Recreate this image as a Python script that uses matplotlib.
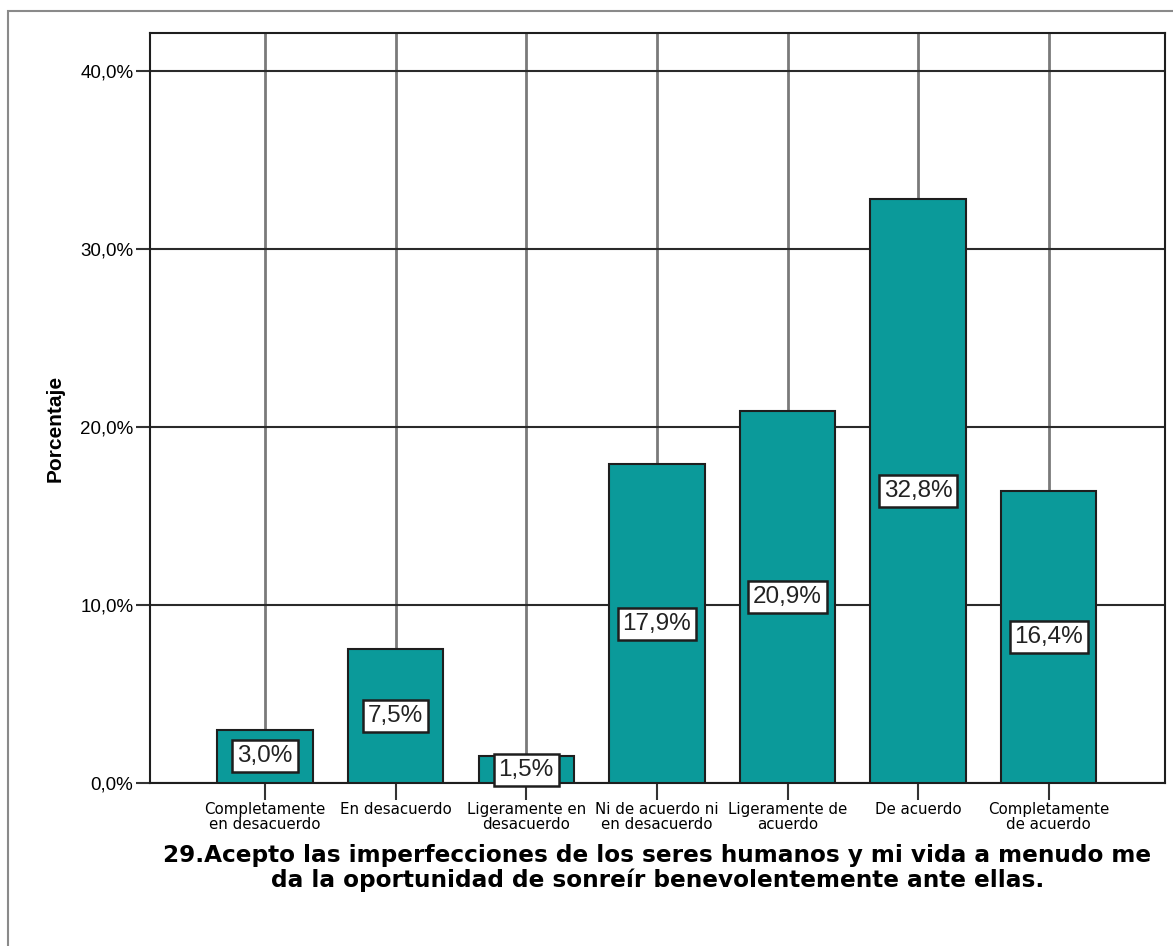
import matplotlib
matplotlib.use("Agg")
import matplotlib.pyplot as plt
from matplotlib.patches import Rectangle

# Datos del grafico
categorias = [
    "Completamente\nen desacuerdo",
    "En desacuerdo",
    "Ligeramente en\ndesacuerdo",
    "Ni de acuerdo ni\nen desacuerdo",
    "Ligeramente de\nacuerdo",
    "De acuerdo",
    "Completamente\nde acuerdo",
]
porcentajes = [3.0, 7.5, 1.5, 17.9, 20.9, 32.8, 16.4]
etiquetas_barras = ["3,0%", "7,5%", "1,5%", "17,9%", "20,9%", "32,8%", "16,4%"]
yticks = [0, 10, 20, 30, 40]
ytick_labels = ["0,0%", "10,0%", "20,0%", "30,0%", "40,0%"]
titulo = ("29.Acepto las imperfecciones de los seres humanos y mi vida a menudo me\n"
          "da la oportunidad de sonreír benevolentemente ante ellas.")

fig = plt.figure(figsize=(11.73, 9.46), dpi=100)
ax = fig.add_axes([0.1279, 0.1723, 0.8653, 0.7928])

# Marco exterior gris
fig.patches.append(Rectangle((8 / 1173, -0.05), 1.1, 1.05 - 11 / 946,
                             transform=fig.transFigure, fill=False,
                             edgecolor="#8a8a8a", linewidth=1.5))

x = list(range(len(categorias)))
ax.bar(x, porcentajes, width=0.73, color="#0b9a9a", edgecolor="#1e1e1e",
       linewidth=1.5, zorder=3)

# Etiquetas en recuadro blanco a media altura
for xi, val, txt in zip(x, porcentajes, etiquetas_barras):
    ax.text(xi, val / 2, txt, ha="center", va="center", fontsize=17.5,
            family="Liberation Sans", color="#222222", zorder=5,
            bbox=dict(boxstyle="square,pad=0.2", facecolor="white",
                      edgecolor="#1e1e1e", linewidth=1.8))

ax.set_xlim(-0.88, 6.89)
ax.set_ylim(0, 42.13)

ax.set_xticks(x)
ax.set_xticklabels(categorias, fontsize=10.8, linespacing=0.95)
ax.set_yticks(yticks)
ax.set_yticklabels(ytick_labels, fontsize=13.5, family="Liberation Sans")
ax.tick_params(axis="x", length=12, width=1.5, color="#333333", pad=2)
ax.tick_params(axis="y", length=10, width=1.5, color="#333333", pad=2)

ax.set_axisbelow(True)
ax.xaxis.grid(True, color="#7a7a7a", linewidth=2)
ax.yaxis.grid(True, color="#2a2a2a", linewidth=1.5)

for s in ax.spines.values():
    s.set_color("#1e1e1e")
    s.set_linewidth(1.5)

ax.set_ylabel("Porcentaje", fontsize=15, fontweight="bold", family="Liberation Sans",
              va="center")
ax.yaxis.set_label_coords(-0.0936, 0.473)
ax.set_xlabel(titulo, fontsize=16.7, fontweight="bold", va="center", linespacing=1.08)
ax.xaxis.set_label_coords(0.5, -0.113)

fig.savefig("out.png", dpi=100)
